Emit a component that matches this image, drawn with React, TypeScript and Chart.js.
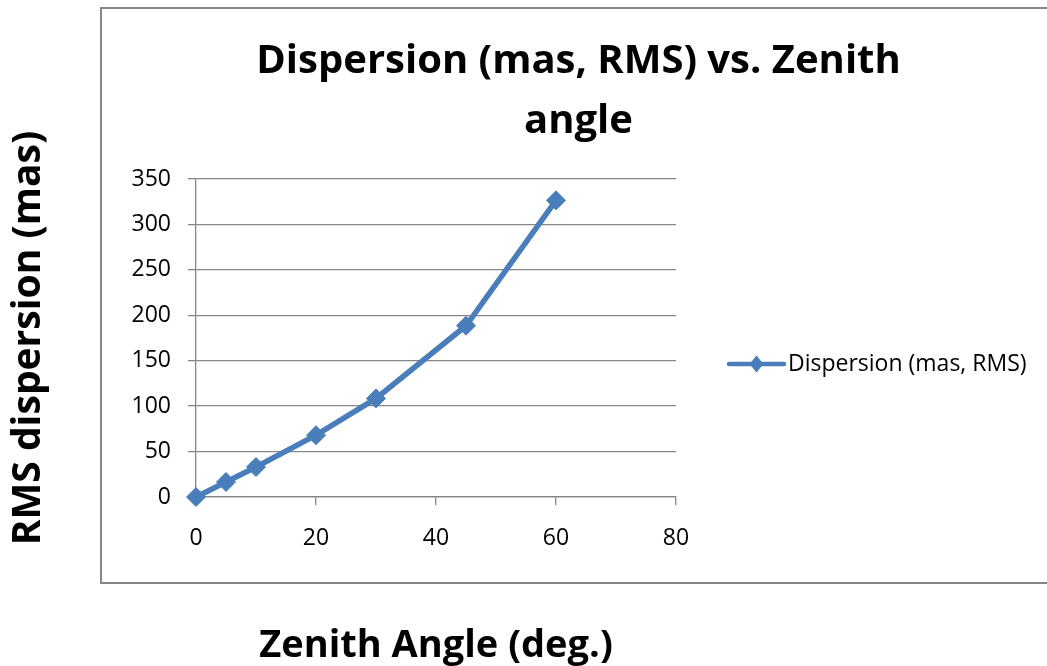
import React, { useEffect, useRef } from 'react';
import { Chart, registerables } from 'chart.js';

Chart.register(...registerables);

// ---- data ----
const seriesName = 'Dispersion (mas, RMS)';
const zenithAngles = [0, 5, 10, 20, 30, 45, 60];
const dispersionValues = [0, 16.5, 33, 68, 108.5, 188.5, 326.5];
const titleLines = ['Dispersion (mas, RMS) vs. Zenith', 'angle'];
const xAxisTitle = 'Zenith Angle (deg.)';
const yAxisTitle = 'RMS dispersion (mas)';
const xTickValues = [0, 20, 40, 60, 80];
const yTickValues = [0, 50, 100, 150, 200, 250, 300, 350];

// ---- styles ----
const BLUE = '#4A7EBB';
const GRID = '#868686';
const TEXT = '#000000';
const FONT = "'Open Sans', 'DejaVu Sans', sans-serif";

const framePlugin = {
  id: 'frame',
  beforeDraw(chart: any) {
    const { ctx, width, height } = chart;
    ctx.save();
    ctx.fillStyle = '#ffffff';
    ctx.fillRect(0, 0, width, height);
    ctx.strokeStyle = GRID;
    ctx.lineWidth = 2;
    ctx.strokeRect(101, 8, width + 20, 575);
    ctx.restore();
  },
};

const legendPlugin = {
  id: 'sideLegend',
  afterDraw(chart: any) {
    const { ctx, chartArea } = chart;
    const x0 = chartArea.right + 53;
    const y0 = 364;
    ctx.save();
    ctx.strokeStyle = BLUE;
    ctx.lineWidth = 4.5;
    ctx.lineCap = 'round';
    ctx.beginPath();
    ctx.moveTo(x0, y0);
    ctx.lineTo(x0 + 55, y0);
    ctx.stroke();
    ctx.fillStyle = BLUE;
    ctx.beginPath();
    const cx = x0 + 27.5;
    ctx.moveTo(cx, y0 - 8.5);
    ctx.lineTo(cx + 7, y0);
    ctx.lineTo(cx, y0 + 8.5);
    ctx.lineTo(cx - 7, y0);
    ctx.closePath();
    ctx.fill();
    ctx.fillStyle = TEXT;
    ctx.font = `23px ${FONT}`;
    ctx.textBaseline = 'middle';
    ctx.textAlign = 'left';
    ctx.fillText(seriesName, x0 + 59, y0);
    ctx.restore();
  },
};

export default function App() {
  const canvasRef = useRef<HTMLCanvasElement | null>(null);

  useEffect(() => {
    const canvas = canvasRef.current;
    if (!canvas) return;
    const chart = new Chart(canvas, {
      type: 'line',
      data: {
        datasets: [
          {
            label: seriesName,
            data: zenithAngles.map((x, i) => ({ x, y: dispersionValues[i] })),
            borderColor: BLUE,
            backgroundColor: BLUE,
            borderWidth: 5.5,
            pointStyle: 'rectRot',
            pointRadius: 9.5,
            pointBorderWidth: 1,
            pointBackgroundColor: BLUE,
            pointBorderColor: BLUE,
            tension: 0,
            clip: false as any,
          },
        ],
      },
      options: {
        responsive: false,
        animation: false,
        layout: { padding: { top: 8, left: 110, right: 0, bottom: 0 } },
        plugins: {
          legend: { display: false },
          tooltip: { enabled: false },
          title: {
            display: true,
            text: titleLines,
            color: TEXT,
            font: { family: FONT, size: 40, weight: 'bold', lineHeight: 1.5 },
            padding: { top: 24, bottom: 27 },
          },
        },
        scales: {
          x: {
            type: 'linear',
            position: 'bottom',
            min: 0,
            max: 80,
            afterBuildTicks: (scale: any) => {
              scale.ticks = xTickValues.map((v) => ({ value: v }));
            },
            afterFit: (scale: any) => {
              scale.height = 169;
            },
            ticks: { color: TEXT, font: { family: FONT, size: 23 }, padding: 20 },
            grid: { drawOnChartArea: false, drawTicks: true, tickLength: 8, color: GRID, lineWidth: 1.3 },
            border: { display: true, color: GRID, width: 1.3 },
            title: {
              display: true,
              text: xAxisTitle,
              color: TEXT,
              font: { family: FONT, size: 38, weight: 'bold' },
              padding: { top: 0, bottom: -3 },
            },
          },
          y: {
            type: 'linear',
            position: 'left',
            min: 0,
            max: 350,
            afterBuildTicks: (scale: any) => {
              scale.ticks = yTickValues.map((v) => ({ value: v }));
            },
            afterFit: (scale: any) => {
              scale.width = 86;
            },
            ticks: { color: TEXT, font: { family: FONT, size: 23 }, padding: 17 },
            grid: { drawTicks: true, tickLength: 8, color: GRID, lineWidth: 1.3 },
            border: { display: true, color: GRID, width: 1.3 },
            title: {
              display: true,
              text: yAxisTitle,
              color: TEXT,
              font: { family: FONT, size: 39, weight: 'bold' },
              padding: { top: -105, bottom: 0 },
            },
          },
          legendSpace: {
            type: 'linear',
            position: 'right',
            display: true,
            afterFit: (scale: any) => {
              scale.width = 371;
            },
            ticks: { display: false },
            grid: { display: false, drawTicks: false },
            border: { display: false },
          },
        },
      },
      plugins: [framePlugin, legendPlugin],
    } as any);
    return () => chart.destroy();
  }, []);

  return (
    <div style={{ position: 'absolute', left: 0, top: 0, width: 1047, height: 666 }}>
      <canvas ref={canvasRef} width={1047} height={666} style={{ display: 'block' }} />
    </div>
  );
}
